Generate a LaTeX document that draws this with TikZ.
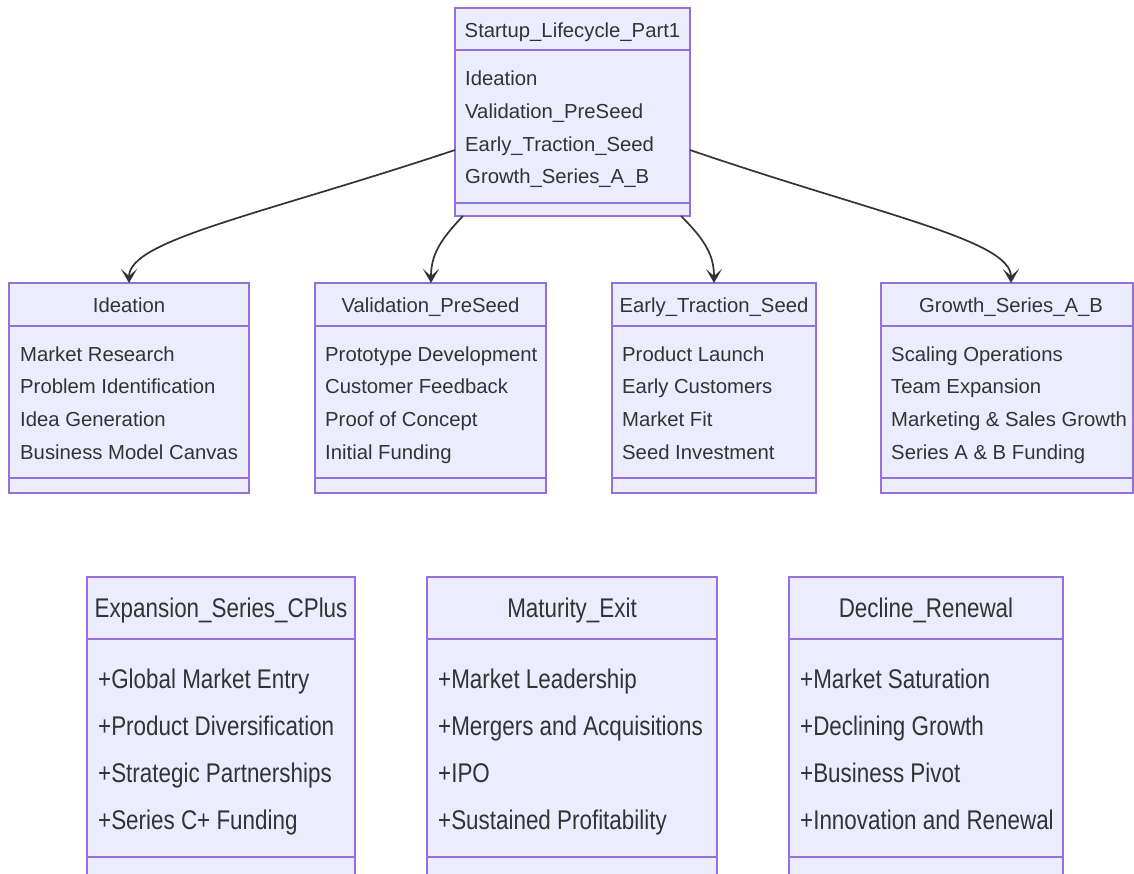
\documentclass[tikz,border=0pt]{standalone}
\usepackage{fontspec}
\setmainfont{Liberation Sans}
\newfontfamily\condfont[FakeStretch=0.83]{Liberation Sans}
\usetikzlibrary{arrows.meta}
\definecolor{boxfill}{HTML}{ECECFF}
\definecolor{boxline}{HTML}{9370DB}
\definecolor{ink}{HTML}{333333}
\tikzset{
  cbox/.style={draw=boxline, fill=boxfill, line width=1.3pt, inner sep=0pt, outer sep=0pt, rectangle},
  cline/.style={draw=boxline, line width=1.3pt},
  ttl/.style={text=ink, inner sep=0pt, text height=0.72em, text depth=0pt},
  mem/.style={ttl, anchor=west},
  small/.style={font=\fontsize{20.3}{22}\selectfont, yshift=-3pt},
  large/.style={font=\condfont\fontsize{27}{30}\selectfont, yshift=-5pt},
  conn/.style={draw=ink, line width=1.7pt, -{Stealth[length=14pt, width=16pt, inset=7pt]}},
}
% a class box: name, left, right, top, bottom, header rule, member rule
\newcommand\classbox[7]{%
  \node[cbox, minimum width=#3-#2, minimum height=#5-#4, anchor=north west] (#1) at (#2,#4) {};
  \draw[cline] (#2,#6) -- (#3,#6);
  \draw[cline] (#2,#7) -- (#3,#7);
}
\begin{document}
\begin{tikzpicture}[x=1pt, y=-1pt]
\useasboundingbox (0,0) rectangle (1134,873);
\clip (0,0) rectangle (1134,873);

% top class
\classbox{top}{455}{690}{8}{216}{50}{203}
\node[ttl, small] (top-t) at (572.5,31) {Startup\_Lifecycle\_Part1};
\node[mem, small] (top-1) at (465,79) {Ideation};
\node[mem, small] (top-2) at (465,112) {Validation\_PreSeed};
\node[mem, small] (top-3) at (465,145) {Early\_Traction\_Seed};
\node[mem, small] (top-4) at (465,177) {Growth\_Series\_A\_B};

% stage classes
\classbox{ide}{9}{249}{283}{493}{326}{478}
\node[ttl, small] (ide-t) at (129,306) {Ideation};
\node[mem, small] (ide-1) at (20,355) {Market Research};
\node[mem, small] (ide-2) at (20,387) {Problem Identification};
\node[mem, small] (ide-3) at (20,420) {Idea Generation};
\node[mem, small] (ide-4) at (20,453) {Business Model Canvas};

\classbox{val}{315}{546}{283}{493}{326}{478}
\node[ttl, small] (val-t) at (430.5,306) {Validation\_PreSeed};
\node[mem, small] (val-1) at (325,355) {Prototype Development};
\node[mem, small] (val-2) at (325,387) {Customer Feedback};
\node[mem, small] (val-3) at (325,420) {Proof of Concept};
\node[mem, small] (val-4) at (325,453) {Initial Funding};

\classbox{ear}{612}{816}{283}{493}{326}{478}
\node[ttl, small] (ear-t) at (714,306) {Early\_Traction\_Seed};
\node[mem, small] (ear-1) at (622,355) {Product Launch};
\node[mem, small] (ear-2) at (622,387) {Early Customers};
\node[mem, small] (ear-3) at (622,420) {Market Fit};
\node[mem, small] (ear-4) at (622,453) {Seed Investment};

\classbox{gro}{881}{1133}{283}{493}{326}{478}
\node[ttl, small] (gro-t) at (1011,306) {Growth\_Series\_A\_B};
\node[mem, small] (gro-1) at (891,355) {Scaling Operations};
\node[mem, small] (gro-2) at (891,387) {Team Expansion};
\node[mem, small] (gro-3) at (891,420) {Marketing \& Sales Growth};
\node[mem, small] (gro-4) at (891,453) {Series A \& B Funding};

% later classes
\classbox{exp}{87}{355}{577}{900}{639}{857}
\node[ttl, large] (exp-t) at (221,609) {Expansion\_Series\_CPlus};
\node[mem, large] (exp-1) at (98,680) {+Global Market Entry};
\node[mem, large] (exp-2) at (98,727) {+Product Diversification};
\node[mem, large] (exp-3) at (98,774) {+Strategic Partnerships};
\node[mem, large] (exp-4) at (98,821) {+Series C+ Funding};

\classbox{mat}{427}{717}{577}{900}{639}{857}
\node[ttl, large] (mat-t) at (572,609) {Maturity\_Exit};
\node[mem, large] (mat-1) at (438,680) {+Market Leadership};
\node[mem, large] (mat-2) at (438,727) {+Mergers and Acquisitions};
\node[mem, large] (mat-3) at (438,774) {+IPO};
\node[mem, large] (mat-4) at (438,821) {+Sustained Profitability};

\classbox{dec}{789}{1063}{577}{900}{639}{857}
\node[ttl, large] (dec-t) at (926,609) {Decline\_Renewal};
\node[mem, large] (dec-1) at (800,680) {+Market Saturation};
\node[mem, large] (dec-2) at (800,727) {+Declining Growth};
\node[mem, large] (dec-3) at (800,774) {+Business Pivot};
\node[mem, large] (dec-4) at (800,821) {+Innovation and Renewal};

% connectors from the lifecycle to each stage
\draw[conn] ([yshift=-38pt]top.west) .. controls (260,215) and (129,240) .. (ide.north);
\draw[conn] ([xshift=8pt]top.south west) .. controls (440,240) and (431,255) .. ([xshift=0.5pt]val.north);
\draw[conn] ([xshift=-9pt]top.south east) .. controls (705,240) and (714,255) .. (ear.north);
\draw[conn] ([yshift=-38pt]top.east) .. controls (880,215) and (1011,240) .. ([xshift=4pt]gro.north);
\end{tikzpicture}
\end{document}
